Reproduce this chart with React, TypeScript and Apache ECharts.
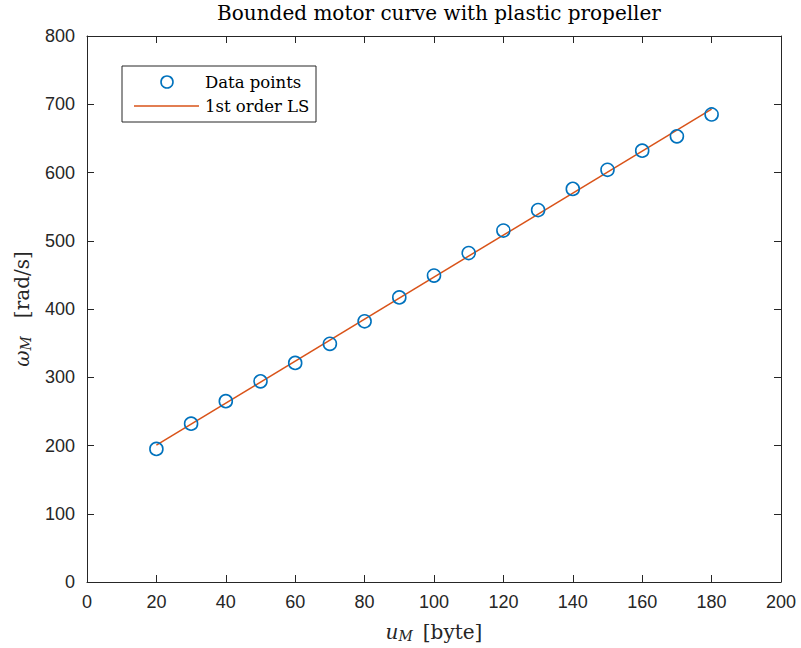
import React, { useEffect, useRef } from "react";
import * as echarts from "echarts";

const xValues = [20, 30, 40, 50, 60, 70, 80, 90, 100, 110, 120, 130, 140, 150, 160, 170, 180];
const yValues = [195, 232, 265, 294, 321, 349, 382, 417, 449, 482, 515, 545, 576, 604, 632, 653, 685];
const fitX = [20, 180];
const fitY = [200.6, 693.0];
const xTicks = [0, 200, 20];
const yTicks = [0, 800, 100];

const TITLE = "Bounded motor curve with plastic propeller";
const LEGEND_POINTS = "Data points";
const LEGEND_FIT = "1st order LS";

const AXIS_COLOR = "#262626";
const BLUE = "#0072BD";
const ORANGE = "#D95319";
const SERIF = "'DejaVu Serif', serif";
const SANS = "'Liberation Sans', Arial, sans-serif";

export default function App() {
  const ref = useRef<HTMLDivElement>(null);
  useEffect(() => {
    if (!ref.current) return;
    const chart = echarts.init(ref.current, null, { renderer: "svg" });
    const axisCommon = {
      axisLine: { show: true, onZero: false, lineStyle: { color: AXIS_COLOR, width: 1 } },
      axisTick: { show: true, inside: true, length: 7, lineStyle: { color: AXIS_COLOR } },
      splitLine: { show: false },
    };
    const rich = {
      it: { fontFamily: SERIF, fontStyle: "italic", fontSize: 20, color: "#262626" },
      sub: { fontFamily: SERIF, fontStyle: "italic", fontSize: 14, color: "#262626", padding: [9, 0, 0, 0] },
      n: { fontFamily: SERIF, fontSize: 20, color: "#262626", padding: [0, 0, 0, 10] },
    };
    chart.setOption({
      animation: false,
      backgroundColor: "#ffffff",
      title: {
        text: TITLE,
        left: 434,
        top: -2,
        textAlign: "center",
        textStyle: { fontFamily: SERIF, fontWeight: "normal", fontSize: 20, color: "#000" },
      },
      grid: { left: 87, right: 20, top: 36, bottom: 60, containLabel: false },
      xAxis: [
        {
          type: "value",
          min: xTicks[0],
          max: xTicks[1],
          interval: xTicks[2],
          position: "bottom",
          ...axisCommon,
          axisLabel: { color: AXIS_COLOR, fontFamily: SANS, fontSize: 18, margin: 11 },
          name: "{it|u}{sub|M}{n|[byte]}",
          nameLocation: "middle",
          nameGap: 38,
          nameTextStyle: { rich },
        },
        {
          type: "value",
          min: xTicks[0],
          max: xTicks[1],
          interval: xTicks[2],
          position: "top",
          ...axisCommon,
          axisLabel: { show: false },
        },
      ],
      yAxis: [
        {
          type: "value",
          min: yTicks[0],
          max: yTicks[1],
          interval: yTicks[2],
          position: "left",
          ...axisCommon,
          axisLabel: { color: AXIS_COLOR, fontFamily: SANS, fontSize: 18, margin: 12 },
          name: "{it|ω}{sub|M}{n|[rad/s]}",
          nameLocation: "middle",
          nameGap: 54,
          nameRotate: 90,
          nameTextStyle: { rich: { ...rich, n: { ...rich.n, padding: [0, 0, 0, 18] } } },
        },
        {
          type: "value",
          min: yTicks[0],
          max: yTicks[1],
          interval: yTicks[2],
          position: "right",
          ...axisCommon,
          axisLabel: { show: false },
        },
      ],
      series: [
        {
          name: LEGEND_FIT,
          type: "line",
          xAxisIndex: 0,
          yAxisIndex: 0,
          data: fitX.map((x, i) => [x, fitY[i]]),
          showSymbol: false,
          symbol: "none",
          lineStyle: { color: ORANGE, width: 1.5 },
          z: 3,
        },
        {
          name: LEGEND_POINTS,
          type: "scatter",
          xAxisIndex: 0,
          yAxisIndex: 0,
          data: xValues.map((x, i) => [x, yValues[i]]),
          symbol: "circle",
          symbolSize: 13,
          itemStyle: { color: "rgba(0,0,0,0)", borderColor: BLUE, borderWidth: 1.6, opacity: 1 },
          z: 4,
        },
      ],
      graphic: [
        {
          type: "rect",
          shape: { x: 122, y: 66, width: 194, height: 56 },
          style: { fill: "#fff", stroke: AXIS_COLOR, lineWidth: 1 },
          z: 10,
        },
        {
          type: "circle",
          shape: { cx: 167, cy: 82, r: 6 },
          style: { fill: "none", stroke: BLUE, lineWidth: 1.6 },
          z: 11,
        },
        {
          type: "line",
          shape: { x1: 134, y1: 106, x2: 199, y2: 106 },
          style: { stroke: ORANGE, lineWidth: 1.5 },
          z: 11,
        },
        {
          type: "text",
          x: 205,
          y: 82,
          style: { text: LEGEND_POINTS, font: `16.5px ${SERIF}`, fill: "#000", verticalAlign: "middle" },
          z: 11,
        },
        {
          type: "text",
          x: 205,
          y: 106,
          style: { text: LEGEND_FIT, font: `16.5px ${SERIF}`, fill: "#000", verticalAlign: "middle" },
          z: 11,
        },
      ],
    });
    return () => chart.dispose();
  }, []);
  return <div ref={ref} style={{ width: 801, height: 648, position: "absolute", left: 0, top: 0 }} />;
}
